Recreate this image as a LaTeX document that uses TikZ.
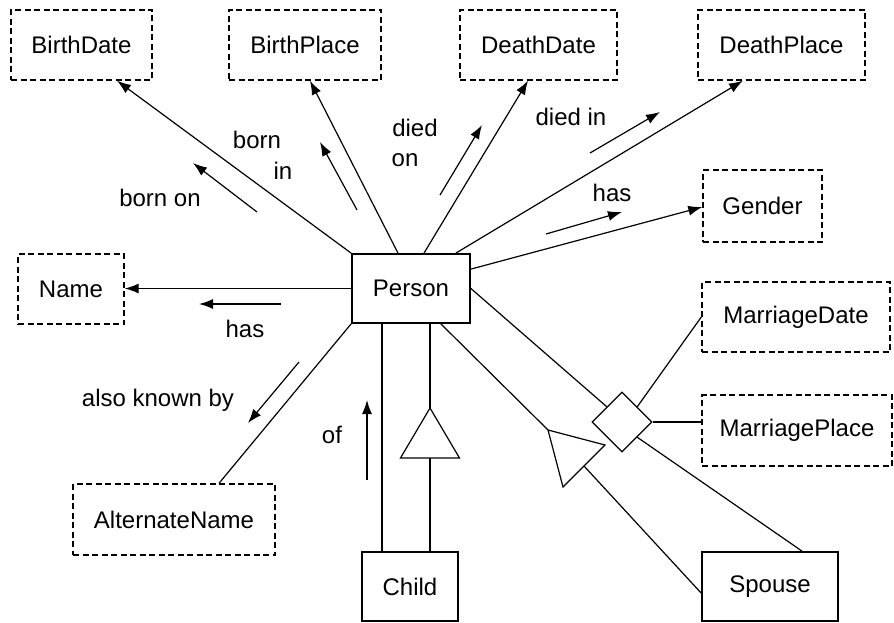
\documentclass[tikz,border=0pt]{standalone}
\usepackage{fontspec}
\setmainfont{Liberation Sans}
\usetikzlibrary{arrows.meta,shapes.geometric}
\begin{document}
\begin{tikzpicture}[x=1pt,y=-1pt,
  font=\fontsize{24}{28}\selectfont,
  attrbox/.style={draw, line width=1.4pt, dash pattern=on 6pt off 3.5pt,
    inner sep=0pt, anchor=center},
  entbox/.style={draw, line width=1.8pt, inner sep=0pt, anchor=center},
  link/.style={line width=1.2pt},
  arr/.style={link, -{Latex[length=14pt,width=10pt]}},
  lbl/.style={inner sep=0pt, anchor=center}]
\useasboundingbox (0,0) rectangle (894,623);

% attribute boxes
\node[attrbox, minimum width=141pt, minimum height=70pt] (bdate)  at (81.5,45)  {BirthDate};
\node[attrbox, minimum width=152pt, minimum height=70pt] (bplace) at (305,45)   {BirthPlace};
\node[attrbox, minimum width=157pt, minimum height=70pt] (ddate)  at (538.5,45) {DeathDate};
\node[attrbox, minimum width=167pt, minimum height=70pt] (dplace) at (781.5,45) {DeathPlace};
\node[attrbox, minimum width=119pt, minimum height=72pt] (gender) at (762.5,206) {Gender};
\node[attrbox, minimum width=106pt, minimum height=70pt] (name)   at (71,289)   {Name};
\node[attrbox, minimum width=188pt, minimum height=70pt] (mdate)  at (796,317)  {MarriageDate};
\node[attrbox, minimum width=190pt, minimum height=71pt] (mplace) at (797,430.5) {MarriagePlace};
\node[attrbox, minimum width=202pt, minimum height=71pt] (alt)    at (174,519.5) {AlternateName};

% entity boxes
\node[entbox, minimum width=118pt, minimum height=69pt] (person) at (411,288.5) {Person};
\node[entbox, minimum width=96pt,  minimum height=69pt] (child)  at (410,586.5) {Child};
\node[entbox, minimum width=136pt, minimum height=69pt] (spouse) at (770,586.5) {Spouse};

% marriage relationship
\node[diamond, draw, line width=1.2pt, minimum width=60pt, minimum height=60pt,
  inner sep=0pt] (marr) at (622,422) {};

% attribute links
\draw[arr] (person.north west) -- ([xshift=35.5pt]bdate.south);
\draw[arr] ([xshift=-13pt]person.north) -- ([xshift=5pt]bplace.south);
\draw[arr] ([xshift=13pt]person.north) -- ([xshift=-10.5pt]ddate.south);
\draw[arr] ([xshift=-15pt]person.north east) -- ([xshift=-38.5pt]dplace.south);
\draw[arr] ([yshift=-16pt]person.north east) -- ([yshift=-1pt]gender.west);
\draw[arr] (person.west) -- (person.west -| name.east);
\draw[link] (person.south west) -- ([xshift=45pt]alt.north);

% reading arrows beside the links
\coordinate (bo1) at (257,212); \coordinate (bo2) at (193,163);
\coordinate (bi1) at (357,210); \coordinate (bi2) at (320,142);
\coordinate (do1) at (440,195); \coordinate (do2) at (482,125);
\coordinate (di1) at (590,153); \coordinate (di2) at (660,112);
\coordinate (gh1) at (546,234); \coordinate (gh2) at (622,212);
\coordinate (nh1) at (281,304); \coordinate (nh2) at (199,304);
\coordinate (ak1) at (299,362); \coordinate (ak2) at (248,423);
\coordinate (of1) at (367,480); \coordinate (of2) at (367,400);
\foreach \a/\b in {bo1/bo2, bi1/bi2, do1/do2, di1/di2, gh1/gh2, nh1/nh2, ak1/ak2, of1/of2}
  \draw[arr] (\a) -- (\b);

% labels
\node[lbl] (lbornon) at (160,198) {born on};
\node[lbl] (lborn)   at (257,140) {born};
\node[lbl] (lin)     at (283,171) {in};
\node[lbl] (ldied)   at (415,128) {died};
\node[lbl] (lon)     at (405,160) {on};
\node[lbl] (ldiedin) at (571,117) {died in};
\node[lbl] (lghas)   at (612,193) {has};
\node[lbl] (lnhas)   at (245,329) {has};
\node[lbl] (laka)    at (158,400) {also known by};
\node[lbl] (lof)     at (332,435) {of};

% child: link and specialisation triangle
\draw[link] ([xshift=-28pt]child.north) -- ([xshift=-28pt]child.north |- person.south);
\coordinate (ctop) at (430,408);
\coordinate (cbl) at (400.5,458);
\coordinate (cbr) at (459.5,458);
\coordinate (cbase) at (430,458);
\draw[link] (ctop |- person.south) -- (ctop);
\draw[link, line join=miter] (ctop) -- (cbl) -- (cbr) -- cycle;
\draw[link] (cbase) -- (cbase |- child.north);

% spouse: specialisation triangle
\coordinate (stop) at (548,430);
\coordinate (sb1) at (605,445);
\coordinate (sb2) at (563,487);
\coordinate (sbase) at (584,466);
\draw[link] ([xshift=-30pt]person.south east) -- (stop);
\draw[link, line join=miter] (stop) -- (sb1) -- (sb2) -- cycle;
\draw[link] (sbase) -- ([yshift=-6.5pt]spouse.west);

% marriage links
\draw[link] (person.east) -- (marr.north west);
\draw[link] (marr.south east) -- ([xshift=32pt]spouse.north);
\draw[link] (marr.north east) -- (mdate.west);
\draw[link] (marr.east) -- (marr.east -| mplace.west);
\end{tikzpicture}
\end{document}
